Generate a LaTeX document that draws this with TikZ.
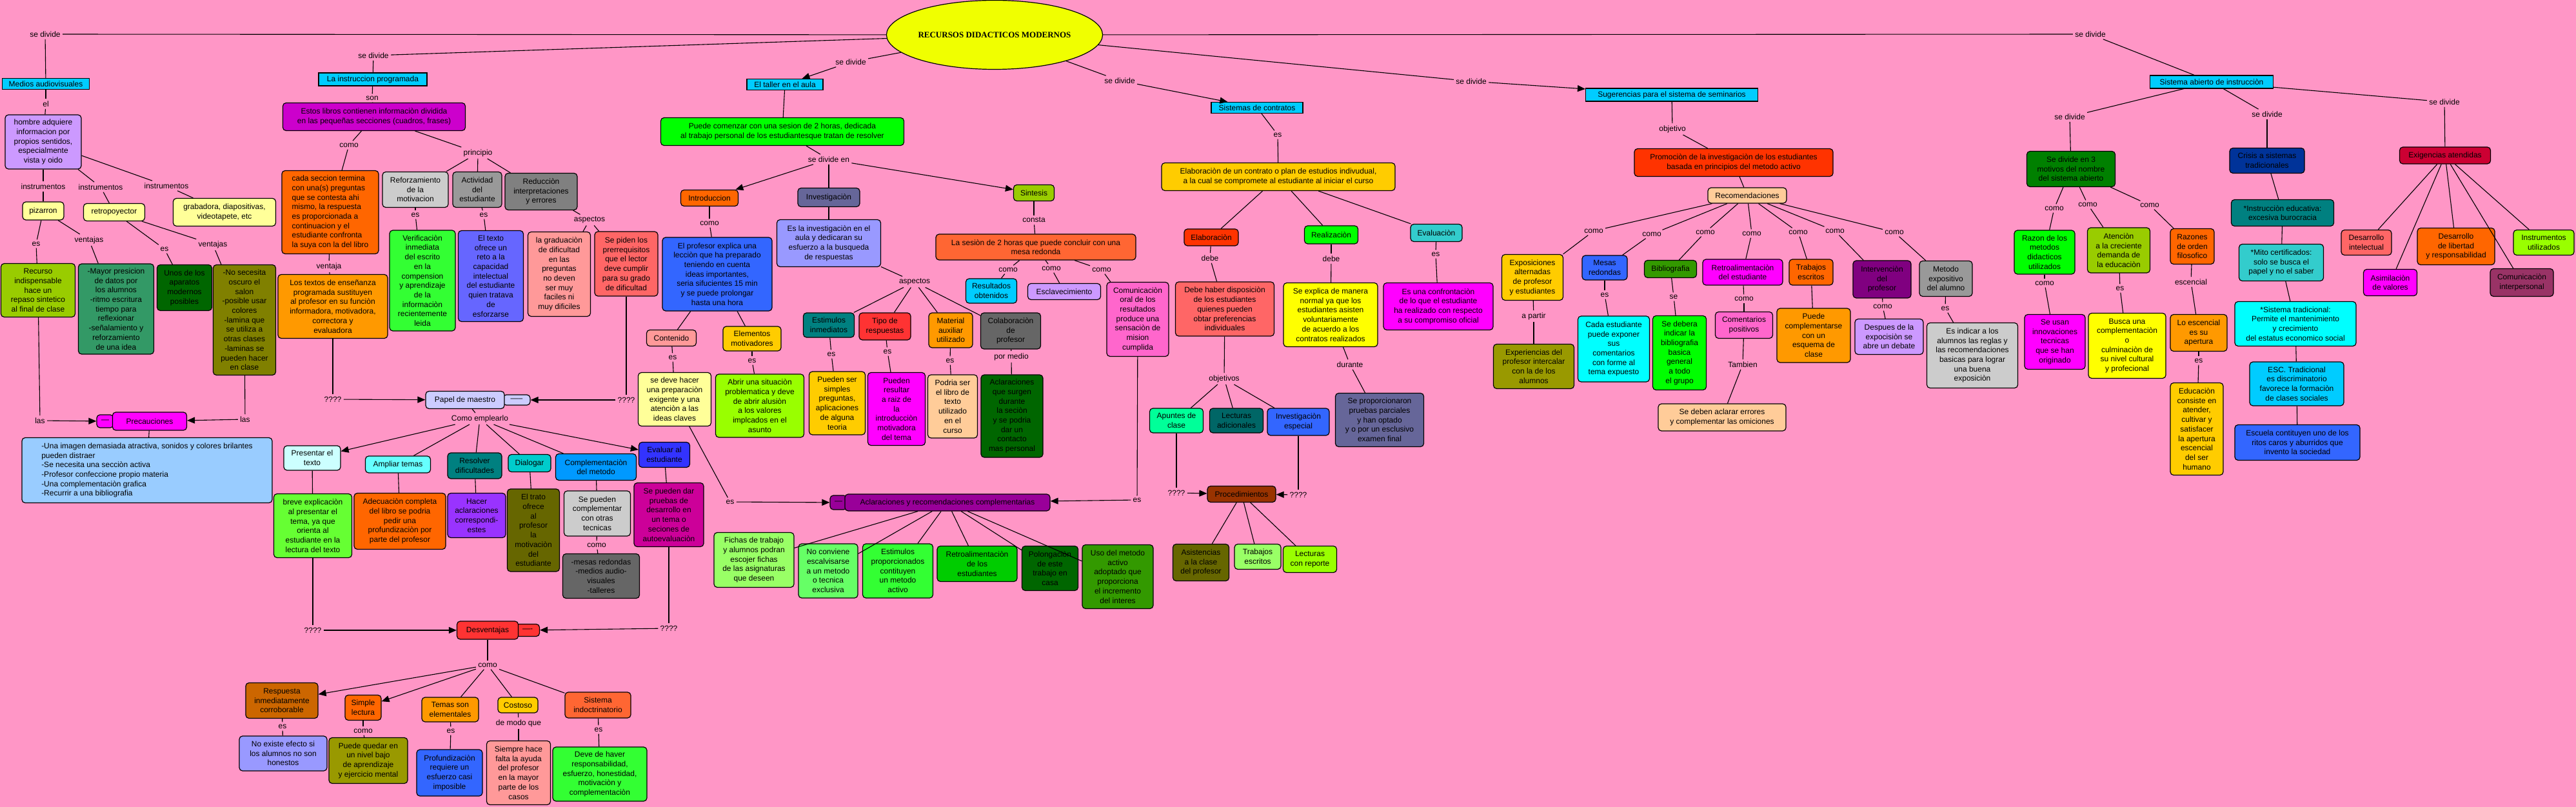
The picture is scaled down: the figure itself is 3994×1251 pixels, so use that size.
\documentclass[tikz,border=0pt]{standalone}
\usepackage{fontspec}
\setmainfont{Liberation Sans}
\newfontfamily\rootfont{Liberation Serif}
\usetikzlibrary{shapes.geometric,arrows.meta}
\newdimen\pxu \pxu=0.5pt
\definecolor{bgpink}{HTML}{FF96C6}
\definecolor{cyanbox}{HTML}{00CCFF}
\definecolor{rootc}{HTML}{F0FF00}
\tikzset{
 box/.style={draw=black,line width=0.6pt,rounded corners=2.5pt,align=center,inner sep=2pt,font=\fontsize{6}{7.35}\selectfont,text=black},
 lab/.style={inner sep=1.5pt,font=\fontsize{6}{7.35}\selectfont,text=black},
 ln/.style={line width=0.55pt,draw=black},
 arr/.style={ln,-{Triangle[length=6pt,width=5pt]}},
}
\newcommand\bx[8][]{\definecolor{tmpc}{HTML}{#7}\node[box,fill=tmpc,minimum width=#5\pxu,minimum height=#6\pxu,#1] (#2) at (#3,#4) {#8};}
\newcommand\rb[6]{\node[box,rounded corners=0pt,fill=cyanbox,minimum width=#4\pxu,minimum height=#5\pxu] (#1) at (#2,#3) {#6};}
\newcommand\lb[4]{\node[lab] (#1) at (#2,#3) {#4};}
\newcommand\ed[2]{\draw[ln] (#1) -- (#2);}
\newcommand\ea[2]{\draw[arr] (#1) -- (#2);}
\begin{document}
\begin{tikzpicture}[x=0.5pt,y=-0.5pt]
\fill[bgpink] (0,0) rectangle (3994,1251);
\useasboundingbox (0,0) rectangle (3994,1251);
% ---------- root
\node[ellipse,draw=black,line width=0.6pt,fill=rootc,minimum width=274\pxu,minimum height=107\pxu,inner sep=0pt,font=\rootfont\bfseries\fontsize{6.5}{8}\selectfont] (root) at (1542,54) {RECURSOS DIDACTICOS MODERNOS};
% ---------- left branch: medios
\lb{sdA}{70}{53}{se divide}
\rb{medios}{71}{130}{135}{17}{Medios audiovisuales}
\lb{el}{71}{161}{el}
\bx{hombre}{67}{220}{118}{84}{CC99FF}{hombre adquiere\\informacion por\\propios sentidos,\\especialmente\\vista y oido}
\lb{ins1}{67}{289}{instrumentos}
\lb{ins2}{156}{290}{instrumentos}
\lb{ins3}{258}{288}{instrumentos}
\bx{pizarron}{67}{327}{64}{28}{FFFF99}{pizarron}
\bx{retro}{177}{329}{95}{27}{FFFF99}{retropoyector}
\bx{grab}{348}{329}{159}{43}{FFFF99}{grabadora, diapositivas,\\videotapete, etc}
\lb{es1}{56}{378}{es}
\lb{ven1}{138}{372}{ventajas}
\lb{es2}{255}{386}{es}
\lb{ven2}{330}{379}{ventajas}
\bx{recurso}{59}{450}{115}{83}{99CC00}{Recurso\\indispensable\\hace un\\repaso sintetico\\al final de clase}
\bx{mayor}{180}{479}{117}{140}{339966}{-Mayor presicion\\de datos por\\los alumnos\\-ritmo escritura\\tiempo para\\reflexionar\\-señalamiento y\\reforzamiento\\de una idea}
\bx{unos}{286}{446}{85}{71}{006600}{Unos de los\\aparatos\\modernos\\posibles}
\bx{nosec}{379}{496}{97}{171}{808000}{-No secesita\\oscuro el\\salon\\-posible usar\\colores\\-lamina que\\se utiliza a\\otras clases\\-laminas se\\pueden hacer\\en clase}
\lb{las1}{62}{652}{las}
\lb{las2}{380}{650}{las}
\bx{precT}{163}{653}{26}{20}{FF00FF}{---}
\bx{precau}{232}{653}{115}{28}{FF00FF}{Precauciones}
\bx[align=left]{precList}{228}{729}{388}{101}{99CCFF}{-Una imagen demasiada atractiva, sonidos y colores brilantes\\pueden distraer\\-Se necesita una secciòn activa\\-Profesor confeccione propio materia\\-Una complementaciòn grafica\\-Recurrir a una bibliografia}
% ---------- instruccion programada
\lb{sdB}{579}{86}{se divide}
\rb{instr}{578}{123}{168}{20}{La instruccion programada}
\lb{son}{577}{152}{son}
\bx{estos}{580}{181}{283}{43}{CC00CC}{Estos libros contienen informaciòn dividida\\en las pequeñas secciones (cuadros, frases)}
\lb{como1}{541}{225}{como}
\lb{principio}{741}{237}{principio}
\bx[align=left]{cada}{512}{329}{150}{129}{FF6600}{cada seccion termina\\con una(s) preguntas\\que se contesta ahi\\mismo, la respuesta\\es proporcionada a\\continuacion y el\\estudiante confronta\\la suya con la del libro}
\lb{ventaja}{510}{413}{ventaja}
\bx{textos}{516}{475}{170}{99}{FF9900}{Los textos de enseñanza\\programada sustituyen\\al profesor en su funciòn\\informadora, motivadora,\\correctora y\\evaluadora}
\bx{refor}{644}{294}{102}{55}{CCCCCC}{Reforzamiento\\de la\\motivacion}
\bx{activ}{740}{294}{76}{55}{999999}{Actividad\\del\\estudiante}
\bx{reduc}{839}{297}{112}{57}{808080}{Reducciòn\\interpretaciones\\y errores}
\lb{es3}{644}{333}{es}
\lb{es4}{750}{333}{es}
\lb{aspA}{914}{341}{aspectos}
\bx{verif}{655}{435}{102}{156}{33FF33}{Verificaciòn\\inmediata\\del escrito\\en la\\compension\\y aprendizaje\\de la\\informaciòn\\recientemente\\leida}
\bx{eltexto}{761}{428}{101}{141}{6666FF}{El texto\\ofrece un\\reto a la\\capacidad\\intelectual\\del estudiante\\quien tratava\\de\\esforzarse}
\bx{gradua}{867}{425}{97}{131}{FF9999}{la graduaciòn\\de dificultad\\en las\\preguntas\\no deven\\ser muy\\faciles ni\\muy dificiles}
\bx{sepiden}{971}{409}{98}{100}{FF6666}{Se piden los\\prerrequisitos\\que el lector\\deve cumplir\\para su grado\\de dificultad}
\lb{q1}{516}{619}{????}
\lb{q2}{971}{620}{????}
\bx{papelT}{801}{620}{42}{16}{CCCCFF}{-----}
\bx{papel}{721}{620}{122}{27}{CCCCFF}{Papel de maestro}
\lb{comoEmp}{744}{649}{Como emplearlo}
\bx{present}{484}{710}{88}{38}{CCFFFF}{Presentar el\\texto}
\bx{ampliar}{617}{720}{101}{26}{66FFFF}{Ampliar temas}
\bx{resolver}{736}{722}{84}{40}{008080}{Resolver\\dificultades}
\bx{dialogar}{821}{718}{66}{27}{00CCCC}{Dialogar}
\bx{complem}{924}{724}{125}{41}{0099FF}{Complementaciòn\\del metodo}
\bx{evaluar}{1030}{705}{79}{39}{3333FF}{Evaluar al\\estudiante}
\bx{breve}{485}{815}{121}{99}{66FF33}{breve explicaciòn\\al presentar el\\tema, ya que\\orienta al\\estudiante en la\\lectura del texto}
\bx{adecua}{620}{808}{142}{87}{FF6600}{Adecuaciòn completa\\del libro se podria\\pedir una\\profundizaciòn por\\parte del profesor}
\bx{hacer}{739}{799}{90}{69}{9933FF}{Hacer\\aclaraciones\\correspondi-\\estes}
\bx{trato}{827}{822}{81}{128}{666600}{El trato\\ofrece\\al\\profesor\\la\\motivaciòn\\del\\estudiante}
\bx{sepueden}{926}{796}{103}{70}{CCCCCC}{Se pueden\\complementar\\con otras\\tecnicas}
\lb{comoX}{925}{845}{como}
\bx{mesas}{932}{893}{119}{69}{666666}{-mesas redondas\\-medios audio-\\visuales\\-talleres}
\bx{sepdar}{1037}{798}{108}{99}{CC0099}{Se pueden dar\\pruebas de\\desarrollo en\\un tema o\\seciones de\\autoevaluaciòn}
\lb{q3}{485}{977}{????}
\lb{q4}{1037}{974}{????}
\bx{desvT}{818}{977}{37}{19}{FF3333}{----}
\bx{desv}{756}{977}{95}{28}{FF3333}{Desventajas}
\lb{comoD}{756}{1031}{como}
\bx{resp}{437}{1086}{112}{55}{CC6600}{Respuesta\\inmediatamente\\corroborable}
\bx{simple}{563}{1097}{56}{39}{FF6600}{Simple\\lectura}
\bx{temas}{698}{1100}{88}{38}{FF9900}{Temas son\\elementales}
\bx{costoso}{803}{1093}{62}{24}{FFCC00}{Costoso}
\bx{sistind}{927}{1093}{102}{40}{FF6633}{Sistema\\indoctrinatorio}
\lb{esR}{438}{1126}{es}
\lb{comoS}{563}{1133}{como}
\lb{esT}{699}{1133}{es}
\lb{demodo}{804}{1121}{de modo que}
\lb{esS}{928}{1131}{es}
\bx{noexiste}{439}{1168}{136}{54}{9999FF}{No existe efecto si\\los alumnos no son\\honestos}
\bx{puedeq}{571}{1179}{122}{71}{999900}{Puede quedar en\\un nivel bajo\\de aprendizaje\\y ejercicio mental}
\bx{profund}{697}{1198}{102}{72}{3366FF}{Profundizaciòn\\requiere un\\esfuerzo casi\\imposible}
\bx{siempre}{804}{1198}{99}{99}{FF9999}{Siempre hace\\falta la ayuda\\del profesor\\en la mayor\\parte de los\\casos}
\bx{deve}{930}{1200}{146}{84}{33FF33}{Deve de haver\\responsabilidad,\\esfuerzo, honestidad,\\motivaciòn y\\complementaciòn}
% ---------- taller
\lb{sdC}{1319}{96}{se divide}
\rb{taller}{1217}{131}{118}{17}{El taller en el aula}
\bx{puede}{1213}{204}{377}{43}{00FF00}{Puede comenzar con una sesion de 2 horas, dedicada\\al trabajo personal de los estudiantesque tratan de resolver}
\lb{sden}{1285}{247}{se divide en}
\bx{intro}{1100}{307}{89}{25}{FF6600}{Introduccion}
\bx{invest}{1285}{306}{96}{29}{666699}{Investigaciòn}
\bx{sintesis}{1603}{299}{63}{25}{99CC00}{Sintesis}
\lb{comoI}{1100}{346}{como}
\bx{profesor}{1112}{425}{170}{114}{3366FF}{El profesor explica una\\lecciòn que ha preparado\\teniendo en cuenta\\ideas importantes,\\seria sifucientes 15 min\\y se puede prolongar\\hasta una hora}
\bx{esinv}{1285}{377}{161}{73}{9999FF}{Es la investigaciòn en el\\aula y dedicaran su\\esfuerzo a la busqueda\\de respuestas}
\lb{consta}{1603}{341}{consta}
\bx{sesion}{1606}{383}{310}{40}{FF6633}{La sesiòn de 2 horas que puede concluir con una\\mesa redonda}
\lb{comoA}{1563}{418}{como}
\lb{comoB}{1630}{416}{como}
\lb{comoC}{1708}{418}{como}
\bx{result}{1537}{451}{79}{38}{00CCFF}{Resultados\\obtenidos}
\bx{esclav}{1650}{452}{113}{25}{CC99FF}{Esclavecimiento}
\bx{comun}{1764}{495}{96}{115}{FF66CC}{Comunicaciòn\\oral de los\\resultados\\produce una\\sensaciòn de\\mision\\cumplida}
\bx{contenido}{1041}{524}{77}{25}{FF9999}{Contenido}
\bx{elementos}{1166}{525}{90}{38}{FFCC00}{Elementos\\motivadores}
\lb{esCont}{1043}{554}{es}
\lb{esElem}{1166}{559}{es}
\bx{sedeve}{1046}{619}{113}{83}{FFFF99}{se deve hacer\\una preparaciòn\\exigente y una\\atenciòn a las\\ideas claves}
\bx{abrir}{1178}{629}{137}{98}{99FF00}{Abrir una situaciòn\\problematica y deve\\de abrir alusiòn\\a los valores\\implcados en el\\asunto}
\lb{aspB}{1418}{437}{aspectos}
\bx{estim}{1285}{504}{79}{38}{008080}{Estimulos\\inmediatos}
\bx{tipo}{1372}{506}{80}{42}{FF3333}{Tipo de\\respuestas}
\bx{material}{1474}{512}{68}{54}{FF9900}{Material\\auxiliar\\utilizado}
\bx{colab}{1567}{513}{93}{56}{666666}{Colaboraciòn\\de\\profesor}
\lb{esE}{1289}{549}{es}
\lb{esTi}{1376}{545}{es}
\lb{esM}{1473}{559}{es}
\lb{pormedio}{1568}{553}{por medio}
\bx{pueden}{1298}{625}{87}{98}{FFCC00}{Pueden ser\\simples\\preguntas,\\aplicaciones\\de alguna\\teoria}
\bx{pueres}{1390}{634}{89}{113}{FF00FF}{Pueden\\resultar\\a raiz de\\la\\introducciòn\\motivadora\\del tema}
\bx{podria}{1477}{630}{77}{98}{FFCC99}{Podria ser\\el libro de\\texto\\utilizado\\en el\\curso}
\bx{aclq}{1569}{645}{96}{128}{006600}{Aclaraciones\\que surgen\\durante\\la seciòn\\y se podria\\dar un\\contacto\\mas personal}
\lb{esDeve}{1132}{778}{es}
\lb{esCom}{1763}{775}{es}
\bx{aclarT}{1300}{779}{26}{22}{990099}{---}
\bx{aclar}{1469}{779}{318}{26}{990099}{Aclaraciones y recomendaciones complementarias}
\bx{fichas}{1169}{868}{124}{85}{99FF66}{Fichas de trabajo\\y alumnos podran\\escojer fichas\\de las asignaturas\\que deseen}
\bx{noconv}{1284}{885}{92}{84}{66FF66}{No conviene\\escalvisarse\\a un metodo\\o tecnica\\exclusiva}
\bx{estprop}{1392}{885}{109}{84}{33FF33}{Estimulos\\proporcionados\\contituyen\\un metodo\\activo}
\bx{retro2}{1515}{874}{124}{55}{00CC00}{Retroalimentaciòn\\de los\\estudiantes}
\bx{polong}{1628}{881}{87}{69}{006600}{Polongaciòn\\de este\\trabajo en\\casa}
\bx{uso}{1733}{894}{110}{99}{339900}{Uso del metodo\\activo\\adoptado que\\proporciona\\el incremento\\del interes}
% ---------- contratos
\lb{sdD}{1736}{125}{se divide}
\rb{sistcont}{1949}{167}{142}{16}{Sistemas de contratos}
\lb{esC}{1981}{209}{es}
\bx{elabc}{1982}{274}{362}{43}{FFCC00}{Elaboraciòn de un contrato o plan de estudios indivudual,\\a la cual se compromete al estudiante al iniciar el curso}
\bx{elab}{1878}{368}{84}{26}{FF3300}{Elaboraciòn}
\bx{realiz}{2064}{364}{83}{28}{00FF00}{Realizaciòn}
\bx{evalu}{2227}{361}{80}{27}{33CCCC}{Evaluaciòn}
\lb{debeA}{1876}{400}{debe}
\lb{debeB}{2064}{401}{debe}
\lb{esEv}{2226}{394}{es}
\bx{debeh}{1899}{479}{153}{84}{FF6666}{Debe haber disposiciòn\\de los estudiantes\\quienes pueden\\obtar preferencias\\individuales}
\bx{seexp}{2063}{488}{146}{99}{FFFF00}{Se explica de manera\\normal ya que los\\estudiantes asisten\\voluntariamente\\de acuerdo a los\\contratos realizados}
\bx{esconf}{2230}{475}{170}{73}{FF00FF}{Es una confrontaciòn\\de lo que el estudiante\\ha realizado con respecto\\a su compromiso oficial}
\lb{durante}{2093}{565}{durante}
\bx{seprop}{2139}{651}{137}{83}{666699}{Se proporcionaron\\pruebas parciales\\y han optado\\y o por un esclusivo\\examen final}
\lb{objetivos}{1898}{587}{objetivos}
\bx{apuntes}{1824}{652}{83}{38}{00FF99}{Apuntes de\\clase}
\bx{lectad}{1917}{652}{83}{38}{006666}{Lecturas\\adicionales}
\bx{invesp}{2013}{654}{96}{42}{3366FF}{Investigaciòn\\especial}
\lb{q5}{1824}{764}{????}
\lb{q6}{2013}{767}{????}
\bx{proced}{1925}{766}{106}{25}{993300}{Procedimientos}
\bx{asist}{1862}{872}{87}{57}{666600}{Asistencias\\a la clase\\del profesor}
\bx{trab2}{1950}{863}{72}{39}{99FF66}{Trabajos\\escritos}
\bx{lectrep}{2031}{867}{83}{41}{99FF00}{Lecturas\\con reporte}
% ---------- seminarios
\lb{sdE}{2281}{126}{se divide}
\rb{suger}{2592}{147}{267}{20}{Sugerencias para el sistema de seminarios}
\lb{objetivo}{2593}{200}{objetivo}
\bx{promo}{2688}{252}{308}{43}{FF3300}{Promociòn de la investigaciòn de los estudiantes\\basada en principios del metodo activo}
\bx{recom}{2709}{303}{122}{24}{FFCC99}{Recomendaciones}
\lb{cA}{2471}{358}{como}
\lb{cB}{2561}{363}{como}
\lb{cC}{2644}{360}{como}
\lb{cD}{2716}{362}{como}
\lb{cE}{2788}{360}{como}
\lb{cF}{2845}{358}{como}
\lb{cG}{2937}{360}{como}
\bx{expos}{2376}{430}{95}{71}{FFCC00}{Exposiciones\\alternadas\\de profesor\\y estudiantes}
\bx{mesasr}{2488}{415}{70}{38}{3366FF}{Mesas\\redondas}
\bx{biblio}{2590}{417}{81}{27}{339900}{Bibliografia}
\bx{retroe}{2702}{422}{124}{40}{FF00FF}{Retroalimentaciòn\\del estudiante}
\bx{trab1}{2808}{422}{68}{40}{FF6600}{Trabajos\\escritos}
\bx{interv}{2918}{433}{90}{58}{800080}{Intervenciòn\\del\\profesor}
\bx{metodo}{3017}{432}{82}{55}{999999}{Metodo\\expositivo\\del alumno}
\lb{apartir}{2378}{490}{a partir}
\lb{esMesas}{2488}{457}{es}
\lb{seB}{2595}{460}{se}
\lb{comoRet}{2704}{463}{como}
\lb{comoInt}{2919}{475}{como}
\lb{esMet}{3016}{478}{es}
\bx{experi}{2378}{568}{125}{69}{999900}{Experiencias del\\profesor intercalar\\con la de los\\alumnos}
\bx{cadaest}{2502}{541}{111}{102}{00FFFF}{Cada estudiante\\puede exponer\\sus\\comentarios\\con forme al\\tema expuesto}
\bx{sedebera}{2604}{547}{83}{115}{00FF00}{Se debera\\indicar la\\bibliografia\\basica\\general\\a todo\\el grupo}
\bx{coment}{2704}{504}{89}{41}{FF66CC}{Comentarios\\positivos}
\lb{tambien}{2702}{565}{Tambien}
\bx{sedeben}{2670}{647}{198}{42}{FFCC99}{Se deben aclarar errores\\y complementar las omiciones}
\bx{puedecomp}{2812}{520}{114}{84}{FF9900}{Puede\\complementarse\\con un\\esquema de\\clase}
\bx{despues}{2929}{522}{106}{55}{CC99FF}{Despues de la\\expocisiòn se\\abre un debate}
\bx{esind}{3058}{551}{141}{101}{CCCCCC}{Es indicar a los\\alumnos las reglas y\\las recomendaciones\\basicas para lograr\\una buena\\exposiciòn}
% ---------- sistema abierto
\lb{sdF}{3241}{53}{se divide}
\rb{abierto}{3429}{127}{191}{20}{Sistema abierto de instrucciòn}
\lb{sdG}{3209}{181}{se divide}
\lb{sdH}{3515}{177}{se divide}
\lb{sdI}{3790}{158}{se divide}
\bx{sediv3}{3211}{262}{137}{55}{008000}{Se divide en 3\\motivos del nombre\\del sistema abierto}
\bx{crisis}{3515}{249}{116}{39}{003399}{Crisis a sistemas\\tradicionales}
\bx{exig}{3791}{241}{141}{26}{CC0033}{Exigencias atendidas}
\lb{cgA}{3185}{323}{como}
\lb{cgB}{3237}{317}{como}
\lb{cgC}{3333}{318}{como}
\bx{razon}{3170}{391}{94}{68}{00FF00}{Razon de los\\metodos\\didacticos\\utilizados}
\bx{atenc}{3285}{388}{97}{70}{99CC00}{Atenciòn\\a la creciente\\demanda de\\la educaciòn}
\bx{razones}{3399}{382}{68}{55}{FF6600}{Razones\\de orden\\filosofico}
\lb{comoRz}{3170}{439}{como}
\lb{esAt}{3287}{447}{es}
\lb{escencial}{3397}{437}{escencial}
\bx{seusan}{3186}{530}{94}{85}{FF00FF}{Se usan\\innovaciones\\tecnicas\\que se han\\originado}
\bx{busca}{3298}{536}{120}{101}{FFFF00}{Busca una\\complementaciòn\\o\\culminaciòn de\\su nivel cultural\\y profecional}
\bx{loesc}{3409}{516}{88}{57}{FF9900}{Lo escencial\\es su\\apertura}
\lb{esLo}{3409}{559}{es}
\bx{educ}{3406}{665}{82}{143}{FFCC00}{Educaciòn\\consiste en\\atender,\\cultivar y\\satisfacer\\la apertura\\escencial\\del ser\\humano}
\bx{instedu}{3539}{330}{159}{41}{008080}{*Instrucciòn educativa:\\excesiva burocracia}
\bx{mito}{3537}{407}{131}{57}{33CCCC}{*Mito certificados:\\solo se busca el\\papel y no el saber}
\bx{sisttrad}{3559}{502}{188}{69}{00FFFF}{*Sistema tradicional:\\Permite el mantenimiento\\y crecimiento\\del estatus economico social}
\bx{esc}{3561}{595}{146}{68}{00CCFF}{ESC. Tradicional\\es discriminatorio\\favorece la formaciòn\\de clases sociales}
\bx{escuela}{3562}{686}{194}{55}{3366FF}{Escuela contituyen uno de los\\ritos caros y aburridos que\\invento la sociedad}
\bx{desint}{3669}{376}{78}{39}{FF6666}{Desarrollo\\intelectual}
\bx{deslib}{3808}{382}{120}{57}{FF6600}{Desarrollo\\de libertad\\y responsabilidad}
\bx{instut}{3944}{376}{94}{39}{99FF00}{Instrumentos\\utilizados}
\bx{asim}{3706}{438}{83}{41}{FF00FF}{Asimilaciòn\\de valores}
\bx{comint}{3910}{438}{98}{43}{993366}{Comunicaciòn\\interpersonal}
% ================= connectors
\ed{sdA}{root}\ed{sdA}{medios}
\ed{root}{sdB}\ed{sdB}{instr}
\ed{root}{sdC}\ea{sdC}{taller}
\ed{root}{sdD}\ea{sdD}{sistcont}
\ed{root}{sdE}\ea{sdE}{suger}
\ed{root}{sdF}\ed{sdF}{abierto}
% medios
\ed{medios}{el}\ed{el}{hombre}
\ed{hombre}{ins1}\ed{ins1}{pizarron}
\ed{hombre}{ins2}\ed{ins2}{retro}
\ed{hombre}{ins3}\ed{ins3}{grab}
\ed{pizarron}{es1}\ed{es1}{recurso}
\ed{pizarron}{ven1}\ed{ven1}{mayor}
\ed{retro}{es2}\ed{es2}{unos}
\ed{retro}{ven2}\ed{ven2}{nosec}
\ed{recurso}{las1}\ea{las1}{precT}
\ed{nosec}{las2}\ea{las2}{precau}
\ed{precau}{precList}
% instruccion
\ed{instr}{son}\ed{son}{estos}
\ed{estos}{como1}\ed{como1}{cada}
\ed{estos}{principio}
\ed{principio}{refor}\ed{principio}{activ}\ed{principio}{reduc}
\ed{cada}{ventaja}\ed{ventaja}{textos}
\ed{textos}{q1}\ea{q1}{papel}
\ed{refor}{es3}\ed{es3}{verif}
\ed{activ}{es4}\ed{es4}{eltexto}
\ed{reduc}{aspA}\ed{aspA}{gradua}\ed{aspA}{sepiden}
\ed{sepiden}{q2}\ea{q2}{papelT}
\ed{papel}{comoEmp}
\ea{comoEmp}{present}\ed{comoEmp}{ampliar}\ed{comoEmp}{resolver}
\ed{comoEmp}{dialogar}\ed{comoEmp}{complem}\ea{comoEmp}{evaluar}
\ed{present}{breve}\ed{ampliar}{adecua}\ed{resolver}{hacer}
\ed{dialogar}{trato}\ed{complem}{sepueden}
\ed{sepueden}{comoX}\ed{comoX}{mesas}
\ed{evaluar}{sepdar}
\ed{breve}{q3}\ea{q3}{desv}
\ed{sepdar}{q4}\ea{q4}{desvT}
\ed{desv}{comoD}
\ea{comoD}{resp}\ea{comoD}{simple}\ed{comoD}{temas}\ed{comoD}{costoso}\ed{comoD}{sistind}
\ed{resp}{esR}\ed{esR}{noexiste}
\ed{simple}{comoS}\ed{comoS}{puedeq}
\ed{temas}{esT}\ed{esT}{profund}
\ed{costoso}{demodo}\ed{demodo}{siempre}
\ed{sistind}{esS}\ed{esS}{deve}
% taller
\ed{taller}{puede}\ed{puede}{sden}
\ea{sden}{intro}\ed{sden}{invest}\ea{sden}{sintesis}
\ed{intro}{comoI}\ed{comoI}{profesor}
\ed{profesor}{contenido}\ed{profesor}{elementos}
\ed{contenido}{esCont}\ed{esCont}{sedeve}
\ed{elementos}{esElem}\ed{esElem}{abrir}
\ed{sedeve}{esDeve}\ea{esDeve}{aclarT}
\ed{invest}{esinv}\ed{esinv}{aspB}
\ed{aspB}{estim}\ed{aspB}{tipo}\ed{aspB}{material}\ed{aspB}{colab}
\ed{estim}{esE}\ed{esE}{pueden}
\ed{tipo}{esTi}\ed{esTi}{pueres}
\ed{material}{esM}\ed{esM}{podria}
\ed{colab}{pormedio}\ed{pormedio}{aclq}
\ed{sintesis}{consta}\ed{consta}{sesion}
\ed{sesion}{comoA}\ed{comoA}{result}
\ed{sesion}{comoB}\ed{comoB}{esclav}
\ed{sesion}{comoC}\ed{comoC}{comun}
\ed{comun}{esCom}\ea{esCom}{aclar}
\ed{aclar}{fichas}\ed{aclar}{noconv}\ed{aclar}{estprop}
\ed{aclar}{retro2}\ed{aclar}{polong}\ed{aclar}{uso}
% contratos
\ed{sistcont}{esC}\ed{esC}{elabc}
\ed{elabc}{elab}\ed{elabc}{realiz}\ed{elabc}{evalu}
\ed{elab}{debeA}\ed{debeA}{debeh}
\ed{debeh}{objetivos}
\ed{objetivos}{apuntes}\ed{objetivos}{lectad}\ed{objetivos}{invesp}
\ed{apuntes}{q5}\ea{q5}{proced}
\ed{invesp}{q6}\ea{q6}{proced}
\ed{proced}{asist}\ed{proced}{trab2}\ed{proced}{lectrep}
\ed{realiz}{debeB}\ed{debeB}{seexp}
\ed{seexp}{durante}\ed{durante}{seprop}
\ed{evalu}{esEv}\ed{esEv}{esconf}
% seminarios
\ed{suger}{objetivo}\ed{objetivo}{promo}\ed{promo}{recom}
\ed{recom}{cA}\ed{cA}{expos}
\ed{recom}{cB}\ed{cB}{mesasr}
\ed{recom}{cC}\ed{cC}{biblio}
\ed{recom}{cD}\ed{cD}{retroe}
\ed{recom}{cE}\ed{cE}{trab1}
\ed{recom}{cF}\ed{cF}{interv}
\ed{recom}{cG}\ed{cG}{metodo}
\ed{expos}{apartir}\ed{apartir}{experi}
\ed{mesasr}{esMesas}\ed{esMesas}{cadaest}
\ed{biblio}{seB}\ed{seB}{sedebera}
\ed{retroe}{comoRet}\ed{comoRet}{coment}
\ed{coment}{tambien}\ed{tambien}{sedeben}
\ed{trab1}{puedecomp}
\ed{interv}{comoInt}\ed{comoInt}{despues}
\ed{metodo}{esMet}\ed{esMet}{esind}
% abierto
\ed{abierto}{sdG}\ed{sdG}{sediv3}
\ed{abierto}{sdH}\ed{sdH}{crisis}
\ed{abierto}{sdI}\ed{sdI}{exig}
\ed{sediv3}{cgA}\ed{cgA}{razon}
\ed{sediv3}{cgB}\ed{cgB}{atenc}
\ed{sediv3}{cgC}\ed{cgC}{razones}
\ed{razon}{comoRz}\ed{comoRz}{seusan}
\ed{atenc}{esAt}\ed{esAt}{busca}
\ed{razones}{escencial}\ed{escencial}{loesc}
\ed{loesc}{esLo}\ed{esLo}{educ}
\ed{crisis}{instedu}\ed{instedu}{mito}\ed{mito}{sisttrad}\ed{sisttrad}{esc}\ed{esc}{escuela}
\ed{exig}{desint}\ed{exig}{asim}\ed{exig}{deslib}\ed{exig}{comint}\ed{exig}{instut}
\end{tikzpicture}
\end{document}
